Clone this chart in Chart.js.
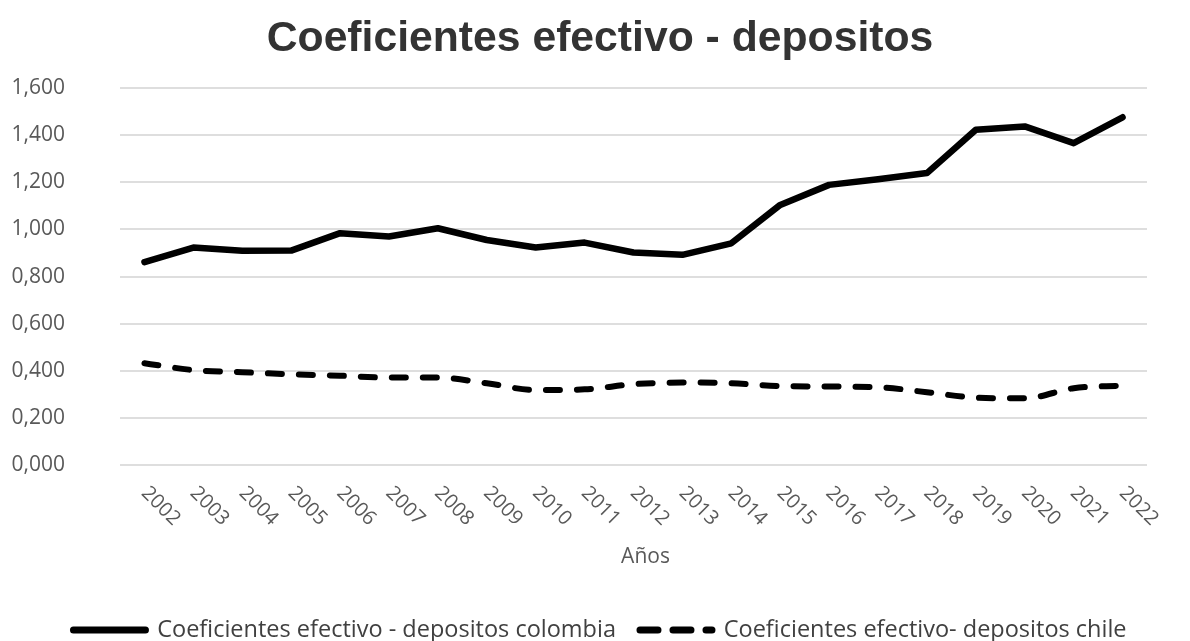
<!DOCTYPE html>
<html>
<head>
<meta charset="utf-8">
<script src="https://cdn.jsdelivr.net/npm/chart.js@4"></script>
<style>
  html, body { margin: 0; padding: 0; background: #ffffff; }
  #wrap { width: 1190px; height: 641px; }
</style>
</head>
<body>
<div id="wrap"><canvas id="c" width="1190" height="641"></canvas></div>
<script>
const years = ['2002','2003','2004','2005','2006','2007','2008','2009','2010','2011','2012','2013','2014','2015','2016','2017','2018','2019','2020','2021','2022'];
const colombia = [0.861,0.923,0.909,0.910,0.984,0.970,1.005,0.955,0.923,0.944,0.902,0.892,0.941,1.104,1.189,1.213,1.239,1.423,1.437,1.366,1.476];
const chile = [0.432,0.403,0.394,0.385,0.379,0.371,0.371,0.347,0.318,0.321,0.343,0.350,0.347,0.335,0.333,0.330,0.309,0.286,0.283,0.326,0.337];
const yTickValues = [0, 0.2, 0.4, 0.6, 0.8, 1.0, 1.2, 1.4, 1.6];
const yTickLabels = ['0,000','0,200','0,400','0,600','0,800','1,000','1,200','1,400','1,600'];
const titleText = 'Coeficientes efectivo - depositos';
const xTitle = 'Años';
const seriesNames = ['Coeficientes efectivo - depositos colombia', 'Coeficientes efectivo- depositos chile'];

const FONT = "'Open Sans', 'DejaVu Sans', sans-serif";
const LEGEND_DASH = [[], [18, 15]];

const xAxisText = {
  id: 'xAxisText',
  afterDraw(chart) {
    const xs = chart.scales.x;
    const ctx = chart.ctx;
    ctx.save();
    ctx.fillStyle = '#595959';
    ctx.font = "20px " + FONT;
    ctx.textAlign = 'left';
    ctx.textBaseline = 'middle';
    years.forEach((lab, i) => {
      const x = xs.getPixelForValue(i);
      ctx.save();
      ctx.translate(x, xs.top + 25);
      ctx.rotate(Math.PI / 4);
      ctx.fillText(lab, 0, 0);
      ctx.restore();
    });
    ctx.font = "21px " + FONT;
    ctx.textAlign = 'center';
    ctx.fillText(xTitle, (xs.left + xs.right) / 2 + 12, 557);
    ctx.restore();
  }
};

new Chart(document.getElementById('c'), {
  type: 'line',
  data: {
    labels: years,
    datasets: [
      {
        label: seriesNames[0],
        data: colombia,
        borderColor: '#000000',
        backgroundColor: '#000000',
        borderWidth: 6.5,
        pointRadius: 0,
        tension: 0,
        borderCapStyle: 'round',
        borderJoinStyle: 'round'
      },
      {
        label: seriesNames[1],
        data: chile,
        borderColor: '#000000',
        backgroundColor: '#000000',
        borderWidth: 6,
        borderDash: [14, 17],
        pointRadius: 0,
        cubicInterpolationMode: 'monotone',
        borderCapStyle: 'round',
        borderJoinStyle: 'round'
      }
    ]
  },
  options: {
    responsive: false,
    animation: false,
    devicePixelRatio: 1,
    layout: { padding: { left: 10, right: 0, top: 0, bottom: -10.75 } },
    plugins: {
      title: {
        display: true,
        text: titleText,
        color: '#333333',
        font: { family: "'Liberation Sans', Arial, sans-serif", size: 42.7, weight: 'bold', lineHeight: 1.2 },
        padding: { top: 13.5, bottom: 23.3 }
      },
      legend: {
        display: true,
        position: 'bottom',
        labels: {
          color: '#404040',
          font: { family: FONT, size: 23.5 },
          usePointStyle: true,
          pointStyle: 'line',
          pointStyleWidth: 72,
          padding: 24,
          generateLabels(chart) {
            const items = Chart.defaults.plugins.legend.labels.generateLabels(chart);
            items.forEach((it, i) => {
              const ds = chart.data.datasets[it.datasetIndex];
              it.lineWidth = 7;
              it.lineDash = LEGEND_DASH[i] || [];
              it.lineCap = 'round';
              it.strokeStyle = ds.borderColor;
              it.fillStyle = ds.borderColor;
              it.pointStyle = 'line';
            });
            return items;
          }
        }
      },
      tooltip: { enabled: false }
    },
    scales: {
      x: {
        type: 'category',
        offset: true,
        grid: { display: false },
        border: { display: false },
        ticks: { display: false },
        afterFit(scale) { scale.height = 129.25; }
      },
      y: {
        type: 'linear',
        position: 'left',
        min: 0,
        max: 1.6,
        afterBuildTicks(scale) { scale.ticks = yTickValues.map(v => ({ value: v })); },
        ticks: {
          color: '#595959',
          font: { family: FONT, size: 21 },
          padding: 55,
          callback(value) {
            const idx = yTickValues.findIndex(v => Math.abs(v - value) < 1e-9);
            return idx >= 0 ? yTickLabels[idx] : '';
          }
        },
        grid: { color: '#dedede', lineWidth: 2, drawTicks: false },
        border: { display: false },
        afterFit(scale) { scale.width = 110; }
      },
      yRight: {
        type: 'linear',
        position: 'right',
        display: true,
        grid: { display: false, drawTicks: false },
        border: { display: false },
        ticks: { display: false },
        afterFit(scale) { scale.width = 43; }
      }
    }
  },
  plugins: [xAxisText]
});
</script>
</body>
</html>
